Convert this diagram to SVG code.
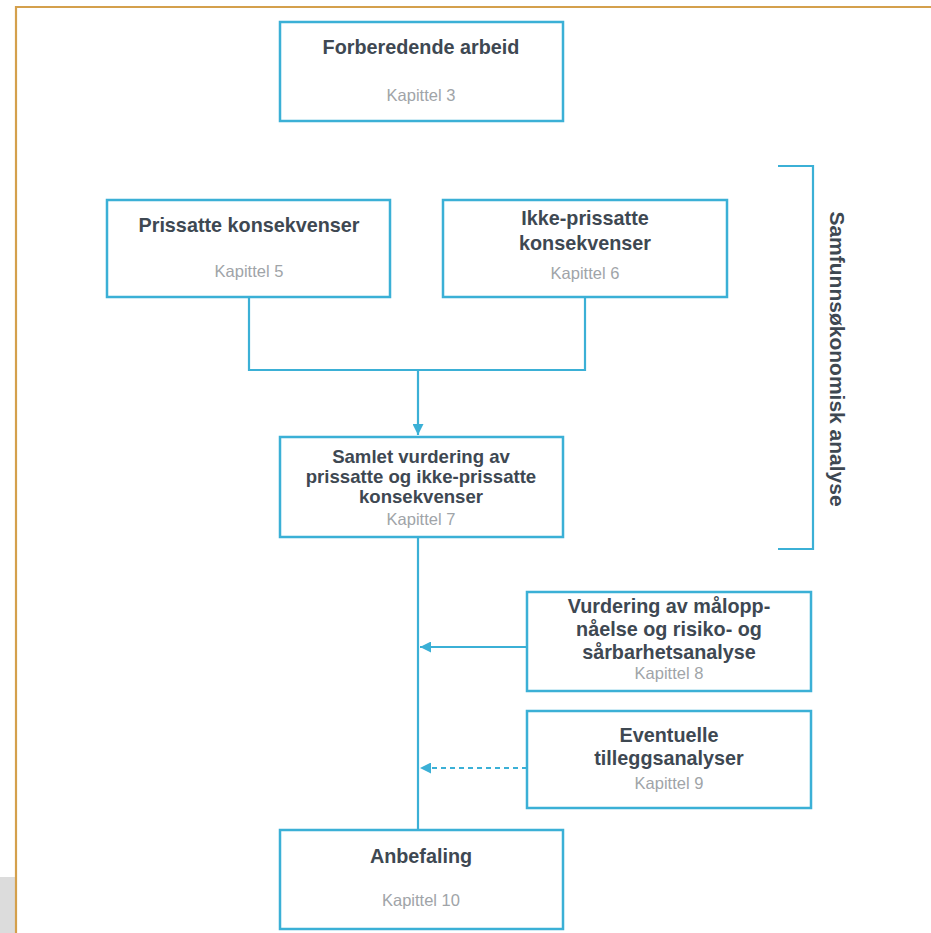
<svg xmlns="http://www.w3.org/2000/svg" width="931" height="933" viewBox="0 0 931 933">
<style>
.box{fill:#fff;stroke:#3bb0d6;stroke-width:2.5}
.t{font-family:"Liberation Sans",Arial,sans-serif;font-weight:bold;font-size:19.8px;fill:#3e4852;text-anchor:middle}
.s{font-size:18.6px}
.k{font-family:"Liberation Sans",Arial,sans-serif;font-size:16.5px;fill:#a0a4a8;text-anchor:middle}
.c{fill:none;stroke:#3bb0d6;stroke-width:2.2}
</style>
<defs>
<marker id="ah" viewBox="0 0 10 10" refX="10" refY="5" markerWidth="5" markerHeight="5" orient="auto" markerUnits="strokeWidth">
<path d="M0,0 L10,5 L0,10 z" fill="#3bb0d6"/>
</marker>
</defs>
<rect x="0" y="0" width="931" height="933" fill="#ffffff"/>
<rect x="0" y="877" width="15" height="56" fill="#dcdcdc"/>
<path d="M16,934 L16,7 L932,7" fill="none" stroke="#d4a04c" stroke-width="2.2"/>

<g id="connectors">
<path class="c" d="M249,297 L249,370 L585,370 L585,297"/>
<path class="c" d="M418,370 L418,435" marker-end="url(#ah)"/>
<path class="c" d="M418,537 L418,830"/>
<path class="c" d="M527,647 L420,647" marker-end="url(#ah)"/>
<path class="c" d="M527,768 L420,768" stroke-dasharray="5,4" marker-end="url(#ah)"/>
</g>

<g id="bracket">
<path class="c" d="M778,166 L813,166 L813,549 L778,549"/>
<text transform="translate(830,359) rotate(90)" class="t" style="font-size:21px">Samfunnsøkonomisk analyse</text>
</g>

<g id="forberedende">
<rect class="box" x="280" y="22" width="283" height="99"/>
<text class="t" x="421" y="54">Forberedende arbeid</text>
<text class="k" x="421" y="101">Kapittel 3</text>
</g>

<g id="prissatte">
<rect class="box" x="107" y="200" width="283" height="97"/>
<text class="t" x="249" y="232">Prissatte konsekvenser</text>
<text class="k" x="249" y="277">Kapittel 5</text>
</g>

<g id="ikke-prissatte">
<rect class="box" x="443" y="200" width="284" height="97"/>
<text class="t" x="585" y="225">Ikke-prissatte</text>
<text class="t" x="585" y="250">konsekvenser</text>
<text class="k" x="585" y="279">Kapittel 6</text>
</g>

<g id="samlet">
<rect class="box" x="280" y="437" width="283" height="100"/>
<text class="t s" x="421" y="463">Samlet vurdering av</text>
<text class="t s" x="421" y="483">prissatte og ikke-prissatte</text>
<text class="t s" x="421" y="503">konsekvenser</text>
<text class="k" x="421" y="525">Kapittel 7</text>
</g>

<g id="vurdering">
<rect class="box" x="527" y="592" width="284" height="99"/>
<text class="t" x="669" y="613">Vurdering av målopp-</text>
<text class="t" x="669" y="636">nåelse og risiko- og</text>
<text class="t" x="669" y="659">sårbarhetsanalyse</text>
<text class="k" x="669" y="679">Kapittel 8</text>
</g>

<g id="eventuelle">
<rect class="box" x="527" y="711" width="284" height="97"/>
<text class="t" x="669" y="742">Eventuelle</text>
<text class="t" x="669" y="765">tilleggsanalyser</text>
<text class="k" x="669" y="789">Kapittel 9</text>
</g>

<g id="anbefaling">
<rect class="box" x="280" y="830" width="283" height="99"/>
<text class="t" x="421" y="863">Anbefaling</text>
<text class="k" x="421" y="906">Kapittel 10</text>
</g>
</svg>
